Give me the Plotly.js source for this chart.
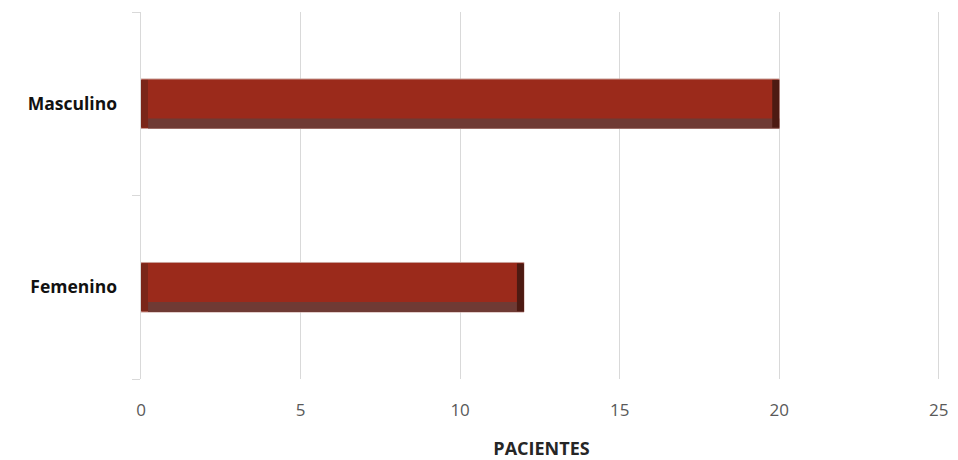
<!DOCTYPE html>
<html><head><meta charset="utf-8">
<script src="https://cdn.plot.ly/plotly-3.0.1.min.js"></script>
<style>body{margin:0;background:#fff}#c{width:958px;height:460px}</style>
</head><body><div id="c"></div>
<script>
const categories = ["Femenino", "Masculino"];
const pacientes = [12, 20];
const tickVals = [0, 5, 10, 15, 20, 25];

const W = 0.27, edge = 0.22, strip = 0.055;
const traces = [
  {type:'bar', orientation:'h', y:categories, x:pacientes, width:W, offset:-W/2,
   marker:{color:'#9b2a1b', line:{color:'#c9a09a', width:1}}, hoverinfo:'x+y'},
  {type:'bar', orientation:'h', y:categories, x:pacientes.map(v=>v-edge), base:edge, width:strip, offset:-W/2,
   marker:{color:'#6f3a34', line:{width:0}}, hoverinfo:'skip'},
  {type:'bar', orientation:'h', y:categories, x:pacientes.map(()=>edge), base:0, width:W-0.01, offset:-W/2+0.005,
   marker:{color:'#7a2619', line:{width:0}}, hoverinfo:'skip'},
  {type:'bar', orientation:'h', y:categories, x:pacientes.map(()=>edge), base:pacientes.map(v=>v-edge), width:W-0.01, offset:-W/2+0.005,
   marker:{color:'#4d1a12', line:{width:0}}, hoverinfo:'skip'}
];
const layout = {
  width:958, height:460, barmode:'overlay', showlegend:false,
  paper_bgcolor:'#fff', plot_bgcolor:'#fff',
  margin:{l:141, r:16, t:12, b:81},
  font:{family:'"Open Sans", "Liberation Sans", sans-serif'},
  xaxis:{range:[0,25.1], tickvals:tickVals, ticktext:tickVals.map(String), showgrid:true, gridcolor:'#d9d9d9', gridwidth:1,
    zeroline:false, showline:false, ticks:'', ticklabelstandoff:19,
    tickfont:{size:17, color:'#595959'},
    title:{text:'<b>PACIENTES</b>', font:{size:18, color:'#262626'}, standoff:24}},
  yaxis:{type:'category', categoryarray:categories, showline:true, linecolor:'#d9d9d9', linewidth:1.5,
    ticks:'outside', tickson:'boundaries', ticklen:8, tickcolor:'#d9d9d9', showgrid:false, zeroline:false,
    ticklabelstandoff:19, tickfont:{size:17.5, color:'#111', family:'"Open Sans", sans-serif', weight:'bold'}}
};
Plotly.newPlot('c', traces, layout, {displayModeBar:false, staticPlot:true});
</script></body></html>
